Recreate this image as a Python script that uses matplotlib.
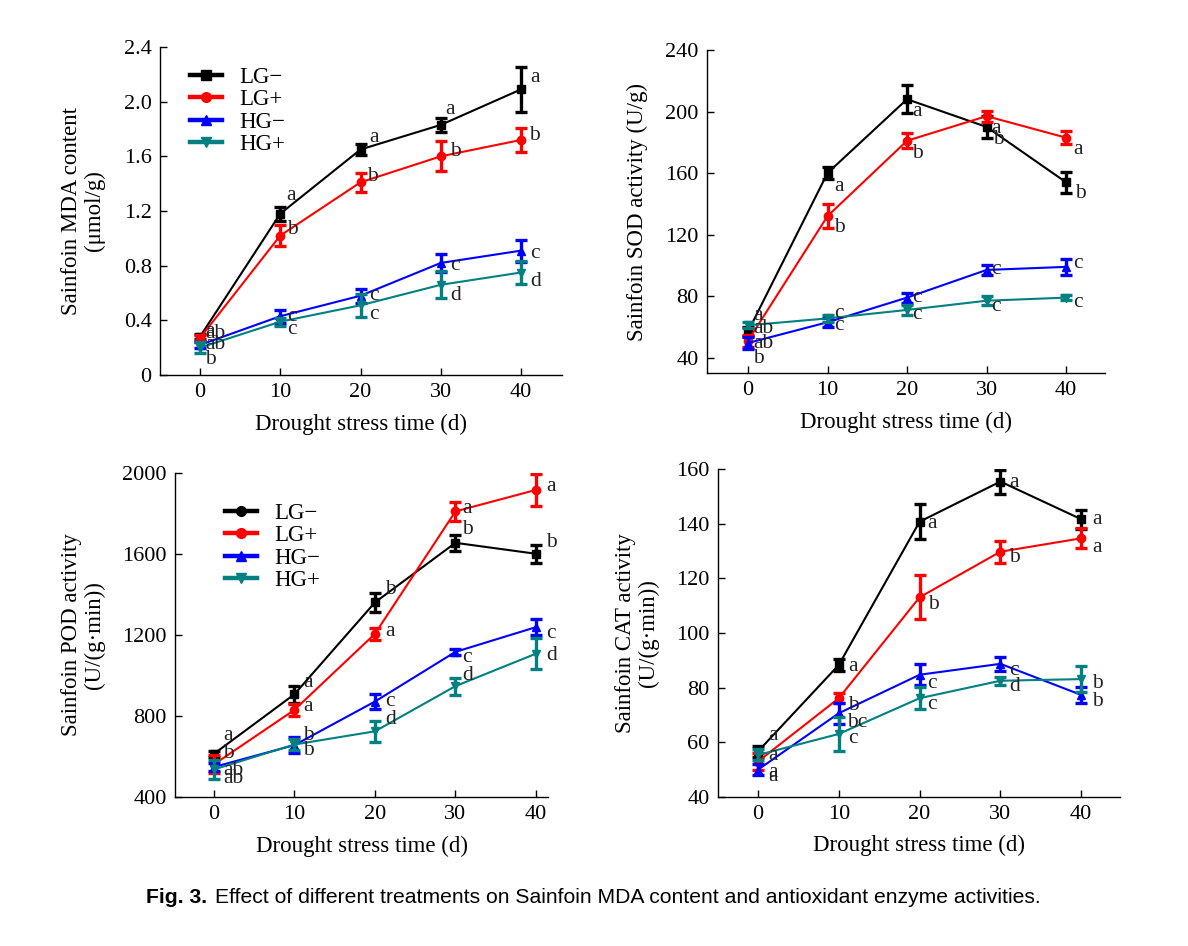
import matplotlib
matplotlib.use("Agg")
import matplotlib.pyplot as plt
import numpy as np

plt.rcParams['font.family'] = ['Liberation Serif', 'DejaVu Serif']
plt.rcParams['mathtext.fontset'] = 'stix'

# ---------------- data ----------------
days = [0, 10, 20, 30, 40]
series_names = ["LG\u2212", "LG+", "HG\u2212", "HG+"]

# MDA content (umol/g)
mda_lgm = [0.28, 1.18, 1.65, 1.83, 2.09]
mda_lgp = [0.27, 1.02, 1.41, 1.60, 1.72]
mda_hgm = [0.22, 0.43, 0.58, 0.82, 0.91]
mda_hgp = [0.20, 0.39, 0.51, 0.66, 0.75]
mda_lgm_err = [0.02, 0.05, 0.04, 0.05, 0.165]
mda_lgp_err = [0.02, 0.077, 0.07, 0.11, 0.09]
mda_hgm_err = [0.02, 0.046, 0.05, 0.063, 0.08]
mda_hgp_err = [0.04, 0.03, 0.085, 0.10, 0.085]
mda_lgm_sig = ["a", "a", "a", "a", "a"]
mda_lgp_sig = ["ab", "b", "b", "b", "b"]
mda_hgm_sig = ["ab", "c", "c", "c", "c"]
mda_hgp_sig = ["b", "c", "c", "d", "d"]

# SOD activity (U/g)
sod_lgm = [57, 160, 208, 190, 154]
sod_lgp = [51, 132, 181, 197, 183]
sod_hgm = [49.5, 63, 79, 97, 99]
sod_hgp = [61, 65.5, 71, 77, 79]
sod_lgm_err = [3, 4, 9, 7, 6.7]
sod_lgp_err = [4, 7.6, 5, 3.6, 4.3]
sod_hgm_err = [3.8, 3, 3.2, 3.5, 5.4]
sod_hgp_err = [2, 2.5, 3.2, 3, 1.5]
sod_lgm_sig = ["ab", "a", "a", "b", "b"]
sod_lgp_sig = ["ab", "b", "b", "a", "a"]
sod_hgm_sig = ["b", "c", "c", "c", "c"]
sod_hgp_sig = ["a", "c", "c", "c", "c"]

# POD activity (U/(g.min))
pod_lgm = [613, 907, 1360, 1654, 1600]
pod_lgp = [561, 830, 1205, 1809, 1915]
pod_hgm = [548, 656, 871, 1116, 1238]
pod_hgp = [536, 659, 724, 947, 1107]
pod_lgm_err = [15, 41, 46, 41, 44]
pod_lgp_err = [45, 29, 29, 46, 78]
pod_hgm_err = [20, 39, 38, 15, 39]
pod_hgp_err = [49, 25, 53, 42, 76]
pod_lgm_sig = ["a", "a", "b", "b", "b"]
pod_lgp_sig = ["b", "a", "a", "a", "a"]
pod_hgm_sig = ["ab", "b", "c", "c", "c"]
pod_hgp_sig = ["ab", "b", "d", "d", "d"]

# CAT activity (U/(g.min))
cat_lgm = [56.6, 88.3, 140.8, 155.5, 141.7]
cat_lgp = [52.9, 76.1, 113.1, 129.8, 134.7]
cat_hgm = [49.9, 70.6, 84.7, 88.7, 77.3]
cat_hgp = [55.3, 63.0, 76.1, 82.5, 83.1]
cat_lgm_err = [2, 2.1, 6.5, 4.4, 3.4]
cat_lgp_err = [3, 1.8, 8, 4, 3.7]
cat_hgm_err = [2, 3.8, 3.9, 2.6, 3]
cat_hgp_err = [2, 6.2, 4.1, 1.5, 4.8]
cat_lgm_sig = ["a", "a", "a", "a", "a"]
cat_lgp_sig = ["a", "b", "b", "b", "a"]
cat_hgm_sig = ["a", "bc", "c", "c", "b"]
cat_hgp_sig = ["a", "c", "c", "d", "b"]

# ---------------- styles ----------------
colors = ["#000000", "#ff0000", "#0000ff", "#008080"]
markers = ["s", "o", "^", "v"]

# label offsets (pixels) per series per point
mda_off = [[(5, 5), (6, 18), (9, 12), (4, 15), (9, 12)],
           [(5, 5), (7, 6), (7, 6), (9, 5), (8, 4)],
           [(5, 0), (7, 0), (9, 0), (9, -3), (9, -3)],
           [(5, -12), (7, -8), (9, -9), (9, -11), (9, -9)]]
sod_off = [[(5, 3), (7, -13), (5, -12), (7, -13), (9, -11)],
           [(5, -3), (7, -11), (5, -13), (5, -12), (7, -12)],
           [(5, -15), (7, -3), (5, 0), (5, 0), (7, 3)],
           [(5, 10), (7, 5), (5, -5), (5, -6), (7, -5)]]
pod_off = [[(9, 18), (9, 12), (10, 13), (7, 13), (10, 11)],
           [(9, 11), (9, 3), (10, 2), (7, 3), (10, 3)],
           [(9, -3), (9, 10), (10, 0), (7, -6), (10, -6)],
           [(9, -9), (9, -6), (10, 12), (7, 11), (10, -2)]]
cat_off = [[(10, 16), (9, -2), (8, -2), (9, -1), (11, 0)],
           [(10, 6), (9, -7), (8, -7), (9, -6), (11, -9)],
           [(10, -3), (8, -9), (8, -9), (9, -7), (11, -7)],
           [(10, -22), (9, -5), (8, -6), (9, -6), (11, -4)]]

W, H = 1188, 946
fig = plt.figure(figsize=(W / 100, H / 100), dpi=100)

def rect(l, r, t, b):
    return [l / W, (H - b) / H, (r - l) / W, (b - t) / H]

panels = [
    dict(rect=rect(160, 562, 47, 375), xlim=(-4.98, 45.1), ylim=(0, 2.4),
         yticks=[0, 0.4, 0.8, 1.2, 1.6, 2.0, 2.4],
         yticklabels=["0", "0.4", "0.8", "1.2", "1.6", "2.0", "2.4"],
         ylabel="Sainfoin MDA content\n(\u03bcmol/g)", ylabx=61,
         vals=[mda_lgm, mda_lgp, mda_hgm, mda_hgp],
         errs=[mda_lgm_err, mda_lgp_err, mda_hgm_err, mda_hgp_err],
         sigs=[mda_lgm_sig, mda_lgp_sig, mda_hgm_sig, mda_hgp_sig],
         offs=mda_off, legend=(190, 67), legmark=["s", "o", "^", "v"]),
    dict(rect=rect(707, 1105, 50, 373), xlim=(-5.16, 44.9), ylim=(30, 240),
         yticks=[40, 80, 120, 160, 200, 240],
         yticklabels=["40", "80", "120", "160", "200", "240"],
         ylabel="Sainfoin SOD activity (U/g)", ylabx=627,
         vals=[sod_lgm, sod_lgp, sod_hgm, sod_hgp],
         errs=[sod_lgm_err, sod_lgp_err, sod_hgm_err, sod_hgp_err],
         sigs=[sod_lgm_sig, sod_lgp_sig, sod_hgm_sig, sod_hgp_sig],
         offs=sod_off, legend=None),
    dict(rect=rect(175, 548, 472.7, 797), xlim=(-4.84, 41.5), ylim=(400, 2000),
         yticks=[400, 800, 1200, 1600, 2000],
         yticklabels=["400", "800", "1200", "1600", "2000"],
         ylabel="Sainfoin POD activity\n(U/(g\u00b7min))", ylabx=61,
         vals=[pod_lgm, pod_lgp, pod_hgm, pod_hgp],
         errs=[pod_lgm_err, pod_lgp_err, pod_hgm_err, pod_hgp_err],
         sigs=[pod_lgm_sig, pod_lgp_sig, pod_hgm_sig, pod_hgp_sig],
         offs=pod_off, legend=(225, 503), legmark=["o", "o", "^", "v"]),
    dict(rect=rect(718, 1120, 469.3, 796.7), xlim=(-4.95, 44.8), ylim=(40, 160),
         yticks=[40, 60, 80, 100, 120, 140, 160],
         yticklabels=["40", "60", "80", "100", "120", "140", "160"],
         ylabel="Sainfoin CAT activity\n(U/(g\u00b7min))", ylabx=615,
         vals=[cat_lgm, cat_lgp, cat_hgm, cat_hgp],
         errs=[cat_lgm_err, cat_lgp_err, cat_hgm_err, cat_hgp_err],
         sigs=[cat_lgm_sig, cat_lgp_sig, cat_hgm_sig, cat_hgp_sig],
         offs=cat_off, legend=None),
]

FS = 15.5
LFS = 16.5
for p in panels:
    ax = fig.add_axes(p["rect"])
    for i in range(4):
        ax.errorbar(days, p["vals"][i], yerr=p["errs"][i], color=colors[i],
                    marker=markers[i], markersize=6, linewidth=1.5,
                    elinewidth=2.4, capsize=4, capthick=2.4, zorder=3 + i)
        for j, d in enumerate(days):
            ax.annotate(p["sigs"][i][j], (d, p["vals"][i][j]),
                        xytext=p["offs"][i][j], textcoords="offset pixels",
                        ha="left", va="center", fontsize=FS, color="#222222",
                        zorder=10)
    if p["legend"] is not None:
        lh = []
        for i in range(4):
            lh.append(plt.Line2D([], [], color=colors[i], marker=p["legmark"][i],
                                 markersize=7, linewidth=3.2))
        lx, ly = p["legend"]
        ax.legend(lh, series_names, loc="upper left",
                  bbox_to_anchor=((lx - p["rect"][0] * W) / (p["rect"][2] * W),
                                  1 - (ly - (H - (p["rect"][1] + p["rect"][3]) * H)) / (p["rect"][3] * H)),
                  frameon=False, fontsize=LFS, handlelength=1.4,
                  handletextpad=0.75, labelspacing=0.06, borderpad=0,
                  borderaxespad=0)
    ax.set_xlim(*p["xlim"])
    ax.set_ylim(*p["ylim"])
    ax.set_xticks(days)
    ax.set_xticklabels([str(d) for d in days])
    ax.set_yticks(p["yticks"])
    ax.set_yticklabels(p["yticklabels"])
    ax.spines["top"].set_visible(False)
    ax.spines["right"].set_visible(False)
    for s in ("left", "bottom"):
        ax.spines[s].set_linewidth(1.0)
    ax.tick_params(direction="in", length=5, width=1.0, labelsize=FS + 0.5, pad=6)
    ax.set_xlabel("Drought stress time (d)", fontsize=FS + 1, labelpad=8)
    ax.set_ylabel(p["ylabel"], fontsize=FS + 1, linespacing=1.1)
    ax.yaxis.set_label_coords((p["ylabx"] - p["rect"][0] * W) / (p["rect"][2] * W), 0.5)
    ax.yaxis.label.set_ha("center")
    ax.yaxis.label.set_va("top")

cap_fam = ['Liberation Sans', 'DejaVu Sans']
t1 = fig.text(146 / W, 1 - 897 / H, "Fig. 3.", fontsize=15.2, fontweight="bold",
              family=cap_fam, va="center", ha="left")
fig.canvas.draw()
bb = t1.get_window_extent()
fig.text((bb.x1 + 8) / W, 1 - 897 / H,
         "Effect of different treatments on Sainfoin MDA content and antioxidant enzyme activities.",
         fontsize=15.2, family=cap_fam, va="center", ha="left")

fig.savefig("out.png", dpi=100)
